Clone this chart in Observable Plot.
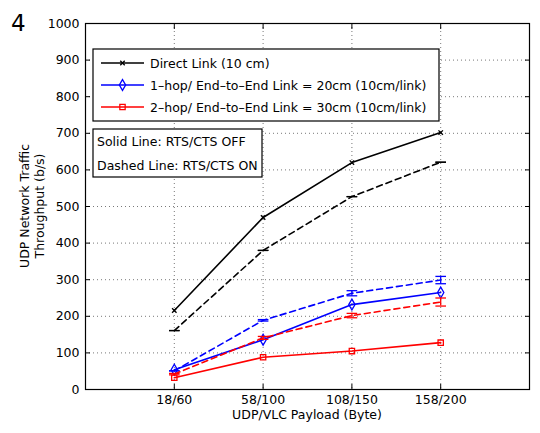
<!DOCTYPE html>
<html>
<head>
<meta charset="utf-8">
<script src="https://cdn.jsdelivr.net/npm/d3@7"></script>
<script src="https://cdn.jsdelivr.net/npm/@observablehq/plot@0.6"></script>
<style>
  html, body { margin: 0; padding: 0; background: #fff; }
  #chart { position: relative; width: 540px; height: 433px; }
</style>
</head>
<body>
<div id="chart"></div>
<script>
// ---- data ----
const categories = ["18/60", "58/100", "108/150", "158/200"];
const yTicks = [0, 100, 200, 300, 400, 500, 600, 700, 800, 900, 1000];

const directOff = [216, 470, 620, 702];
const directOn  = [161, 380, 527, 621];
const hop1Off   = [54, 136, 232, 265];
const hop1On    = [51, 189, 263, 299];
const hop2Off   = [32, 88, 105, 128];
const hop2On    = [42, 141, 202, 239];

const directOnErr = [0, 0, 0, 0];
const hop1OnErr   = [0, 2, 7, 10];
const hop2OnErr   = [2, 4, 6, 11];

const legendLabels = [
  "Direct Link (10 cm)",
  "1\u2013hop/ End\u2013to\u2013End Link = 20cm (10cm/link)",
  "2\u2013hop/ End\u2013to\u2013End Link = 30cm (10cm/link)"
];
const noteLabels = ["Solid Line: RTS/CTS OFF", "Dashed Line: RTS/CTS ON"];
const xTitle = "UDP/VLC Payload (Byte)";
const yTitle = ["UDP Network Traffic", "Throughput (b/s)"];
const panelLabel = "4";

const xPos = categories.map((c, i) => i + 1);
const toRows = (vals, errs) => vals.map((v, i) => ({x: i + 1, y: v, e: errs ? errs[i] : 0}));

const BLACK = "#000000", BLUE = "#0000ff", RED = "#ff0000";
const FONT = "DejaVu Sans, sans-serif";

const W = 540, H = 433;
const M = {left: 85, right: 11, top: 23, bottom: 44};

// custom symbols
const capSymbol = {draw(ctx, size) { const w = Math.sqrt(size); ctx.moveTo(-w, 0); ctx.lineTo(w, 0); }};
const timesSymbol = {draw(ctx, size) { const w = Math.sqrt(size) * 0.7; ctx.moveTo(-w, -w); ctx.lineTo(w, w); ctx.moveTo(-w, w); ctx.lineTo(w, -w); }};

const series = [
  {off: directOff, on: directOn, err: directOnErr, color: BLACK, symbol: timesSymbol, r: 1.8, fill: "none"},
  {off: hop1Off, on: hop1On, err: hop1OnErr, color: BLUE, symbol: "diamond", r: 3.3, fill: "none"},
  {off: hop2Off, on: hop2On, err: hop2OnErr, color: RED, symbol: "square", r: 3.0, fill: "none"}
];

const marks = [
  Plot.gridX(xPos, {stroke: "#555", strokeOpacity: 1, strokeWidth: 0.8, strokeDasharray: "1,3"}),
  Plot.gridY(yTicks.slice(1, -1), {stroke: "#555", strokeOpacity: 1, strokeWidth: 0.8, strokeDasharray: "1,3"}),
  // labels
  Plot.axisX(xPos, {anchor: "bottom", tickSize: 0, tickPadding: 6, tickFormat: d => categories[d - 1], fontSize: 12.5, label: null}),
  Plot.axisY(yTicks, {anchor: "left", tickSize: 0, tickPadding: 6, tickFormat: d3.format("d"), fontSize: 12.5, label: null}),
  // inward ticks on all four sides
  Plot.axisX(xPos, {anchor: "bottom", tickSize: -5, tickFormat: () => "", label: null}),
  Plot.axisX(xPos, {anchor: "top", tickSize: -5, tickFormat: () => "", label: null}),
  Plot.axisY(yTicks, {anchor: "left", tickSize: -5, tickFormat: () => "", label: null}),
  Plot.axisY(yTicks, {anchor: "right", tickSize: -5, tickFormat: () => "", label: null}),
];

for (const s of series) {
  const on = toRows(s.on, s.err);
  const off = toRows(s.off);
  marks.push(
    Plot.line(on, {x: "x", y: "y", stroke: s.color, strokeWidth: 1.6, strokeDasharray: "6,4"}),
    Plot.ruleX(on, {x: "x", y1: d => d.y - d.e, y2: d => d.y + d.e, stroke: s.color, strokeWidth: 1.3}),
    Plot.dot(on, {x: "x", y: d => d.y - d.e, symbol: capSymbol, r: 3, stroke: s.color, strokeWidth: 1.3}),
    Plot.dot(on, {x: "x", y: d => d.y + d.e, symbol: capSymbol, r: 3, stroke: s.color, strokeWidth: 1.3}),
    Plot.line(off, {x: "x", y: "y", stroke: s.color, strokeWidth: 1.6}),
    Plot.dot(off, {x: "x", y: "y", symbol: s.symbol, r: s.r, stroke: s.color, fill: s.fill, strokeWidth: 1.3})
  );
}
marks.push(Plot.frame({stroke: "#000", strokeWidth: 1.2}));

const svg = Plot.plot({
  width: W, height: H,
  marginLeft: M.left, marginRight: M.right, marginTop: M.top, marginBottom: M.bottom,
  style: {fontFamily: FONT, fontSize: "12px", color: "#000", background: "#fff"},
  x: {type: "linear", domain: [0, 5], axis: null},
  y: {type: "linear", domain: [0, 1000], axis: null},
  marks
});
document.getElementById("chart").appendChild(svg);

// ---- titles and in-axes legends (layout only) ----
const g = d3.select(svg).append("g").attr("font-family", FONT).attr("fill", "#000")
  .attr("text-anchor", "start").attr("stroke", "none");
const plotL = M.left, plotR = W - M.right, plotT = M.top, plotB = H - M.bottom;

g.append("text").attr("x", (plotL + plotR) / 2).attr("y", plotB + 30)
  .attr("text-anchor", "middle").attr("font-size", 12.5).text(xTitle);

const yt = g.append("text").attr("transform", `translate(${29},${(plotT + plotB) / 2}) rotate(-90)`)
  .attr("text-anchor", "middle").attr("font-size", 12.5);
yt.append("tspan").attr("x", 0).attr("dy", 0).text(yTitle[0]);
yt.append("tspan").attr("x", 0).attr("dy", 14.5).text(yTitle[1]);

g.append("text").attr("x", 11).attr("y", 31).attr("font-size", 23).attr("text-anchor", "start").text(panelLabel);

// legend box
const lg = g.append("g");
lg.append("rect").attr("x", 93).attr("y", 49).attr("width", 346).attr("height", 72)
  .attr("fill", "#fff").attr("stroke", "#000").attr("stroke-width", 1.2);
const ly = [63, 85, 107];
series.forEach((s, i) => {
  lg.append("line").attr("x1", 101).attr("x2", 144).attr("y1", ly[i]).attr("y2", ly[i])
    .attr("stroke", s.color).attr("stroke-width", 1.6);
  const sym = s.symbol === "diamond" ? d3.symbolDiamond : s.symbol === "square" ? d3.symbolSquare : timesSymbol;
  lg.append("path").attr("transform", `translate(122.5,${ly[i]})`)
    .attr("d", d3.symbol(sym, s.r * s.r * Math.PI)())
    .attr("fill", "none").attr("stroke", s.color).attr("stroke-width", 1.3);
  lg.append("text").attr("x", 150).attr("y", ly[i] + 4.5).attr("font-size", 12.5)
    .attr("text-anchor", "start").text(legendLabels[i]);
});

// note box
const ng = g.append("g");
ng.append("rect").attr("x", 93).attr("y", 129).attr("width", 169).attr("height", 48)
  .attr("fill", "#fff").attr("stroke", "#000").attr("stroke-width", 1.2);
ng.append("text").attr("x", 97).attr("y", 146).attr("font-size", 12.5).attr("text-anchor", "start").text(noteLabels[0]);
ng.append("text").attr("x", 97).attr("y", 170).attr("font-size", 12.5).attr("text-anchor", "start").text(noteLabels[1]);
</script>
</body>
</html>
